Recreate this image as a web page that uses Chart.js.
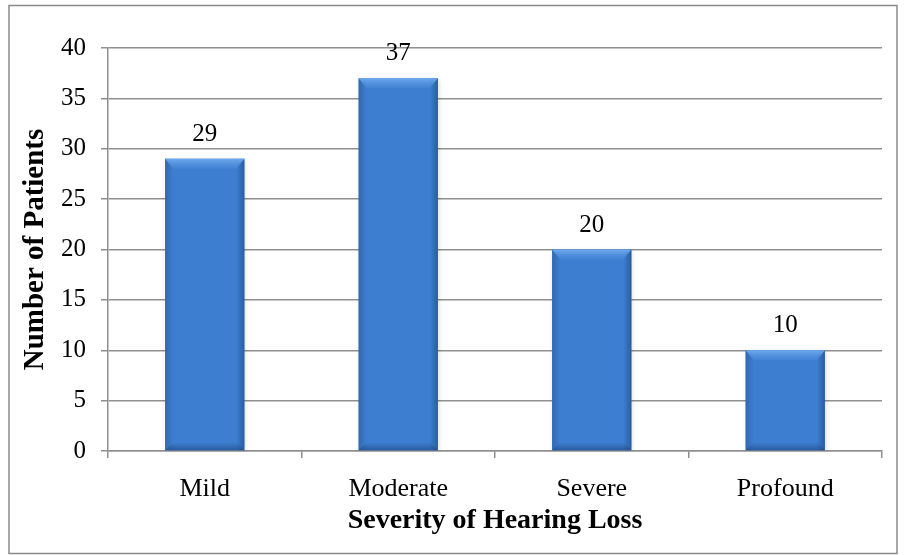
<!DOCTYPE html>
<html>
<head>
  <title>Severity of Hearing Loss</title>
  <style>
    body {
      margin: 0;
      padding: 0;
      background: #fff;
    }
    #wrap {
      width: 908px;
      height: 555px;
    }
  </style>
</head>
<body>
  <div id="wrap"><canvas id="grafik" width="908" height="555"></canvas></div>

  <script src="https://cdn.jsdelivr.net/npm/chart.js@4.3.0/dist/chart.umd.min.js"></script>
  <script>
    // data
    const categories = ['Mild', 'Moderate', 'Severe', 'Profound'];
    const patients = [29, 37, 20, 10];
    const yTicks = [0, 5, 10, 15, 20, 25, 30, 35, 40];

    const serif = '"Liberation Serif", "Times New Roman", serif';
    const gridGrey = '#8f8f8f';

    // outer frame of the picture
    const framePlugin = {
      id: 'frame',
      beforeDraw(chart) {
        const ctx = chart.ctx;
        ctx.save();
        ctx.fillStyle = '#fff';
        ctx.fillRect(0, 0, chart.width, chart.height);
        ctx.strokeStyle = '#8a8a8a';
        ctx.lineWidth = 1.5;
        ctx.strokeRect(9, 5.5, 888, 548);
        ctx.restore();
      }
    };

    // bevel look and value labels, drawn on the bars chart.js placed
    const bevelPlugin = {
      id: 'bevel',
      beforeDatasetsDraw(chart) {
        const ctx = chart.ctx;
        ctx.save();
        ctx.shadowColor = 'rgba(0,0,0,0.18)';
        ctx.shadowBlur = 5;
        ctx.shadowOffsetX = 1;
        ctx.shadowOffsetY = 1;
      },
      afterDatasetsDraw(chart) {
        const ctx = chart.ctx;
        ctx.restore();
        ctx.save();
        const meta = chart.getDatasetMeta(0);
        meta.data.forEach((bar, i) => {
          const left = bar.x - bar.width / 2;
          const right = bar.x + bar.width / 2;
          const top = bar.y;
          const bottom = bar.base;
          const b = 8;

          // side strips
          let g = ctx.createLinearGradient(left, 0, left + b, 0);
          g.addColorStop(0, 'rgba(40,85,150,0.55)');
          g.addColorStop(1, 'rgba(40,85,150,0)');
          ctx.fillStyle = g;
          ctx.fillRect(left, top, b, bottom - top);

          g = ctx.createLinearGradient(right - b, 0, right, 0);
          g.addColorStop(0, 'rgba(30,70,130,0)');
          g.addColorStop(1, 'rgba(30,70,130,0.6)');
          ctx.fillStyle = g;
          ctx.fillRect(right - b, top, b, bottom - top);

          // bottom strip
          g = ctx.createLinearGradient(0, bottom - b, 0, bottom);
          g.addColorStop(0, 'rgba(30,70,130,0)');
          g.addColorStop(1, 'rgba(30,70,130,0.6)');
          ctx.fillStyle = g;
          ctx.beginPath();
          ctx.moveTo(left + b, bottom - b);
          ctx.lineTo(right - b, bottom - b);
          ctx.lineTo(right, bottom);
          ctx.lineTo(left, bottom);
          ctx.closePath();
          ctx.fill();

          // top highlight
          g = ctx.createLinearGradient(0, top, 0, top + b + 2);
          g.addColorStop(0, '#6eaaf0');
          g.addColorStop(1, 'rgba(90,150,225,0.2)');
          ctx.fillStyle = g;
          ctx.beginPath();
          ctx.moveTo(left, top);
          ctx.lineTo(right, top);
          ctx.lineTo(right - b, top + b + 2);
          ctx.lineTo(left + b, top + b + 2);
          ctx.closePath();
          ctx.fill();

          // value label
          ctx.fillStyle = '#000';
          ctx.font = '25px ' + serif;
          ctx.textAlign = 'center';
          ctx.textBaseline = 'bottom';
          ctx.fillText(String(patients[i]), bar.x, top - 12);
        });
        ctx.restore();
      }
    };

    const ctx = document.getElementById('grafik').getContext('2d');

    const chart = new Chart(ctx, {
      type: 'bar',
      data: {
        labels: categories,
        datasets: [{
          label: 'Number of Patients',
          data: patients,
          backgroundColor: '#3d7ed0',
          borderWidth: 0,
          barPercentage: 0.41,
          categoryPercentage: 1
        }]
      },
      options: {
        responsive: false,
        animation: false,
        devicePixelRatio: 1,
        layout: {
          padding: { left: 0, top: 48, right: 26, bottom: 0 }
        },
        plugins: {
          legend: { display: false },
          tooltip: { enabled: false }
        },
        scales: {
          x: {
            afterFit(scale) { scale.height = 104; },
            grid: {
              offset: true,
              drawOnChartArea: false,
              drawTicks: true,
              tickLength: 7,
              color: gridGrey,
              lineWidth: 1.5
            },
            border: { display: true, color: gridGrey, width: 1.5 },
            ticks: {
              color: '#000',
              font: { family: serif, size: 26 },
              padding: 16
            },
            title: {
              display: true,
              text: 'Severity of Hearing Loss',
              color: '#000',
              font: { family: serif, size: 28, weight: 'bold' },
              padding: { top: 0, bottom: 17 }
            }
          },
          y: {
            min: 0,
            max: 40,
            afterFit(scale) { scale.width = 108; },
            afterBuildTicks(scale) {
              scale.ticks = yTicks.map(v => ({ value: v }));
            },
            grid: {
              color: gridGrey,
              lineWidth: 1.5,
              tickLength: 7
            },
            border: { display: true, color: gridGrey, width: 1.5 },
            ticks: {
              color: '#000',
              font: { family: serif, size: 25 },
              padding: 15
            },
            title: {
              display: true,
              text: 'Number of Patients',
              color: '#000',
              font: { family: serif, size: 29, weight: 'bold' },
              padding: { top: 18, bottom: 0 }
            }
          }
        }
      },
      plugins: [framePlugin, bevelPlugin]
    });
  </script>
</body>
</html>
